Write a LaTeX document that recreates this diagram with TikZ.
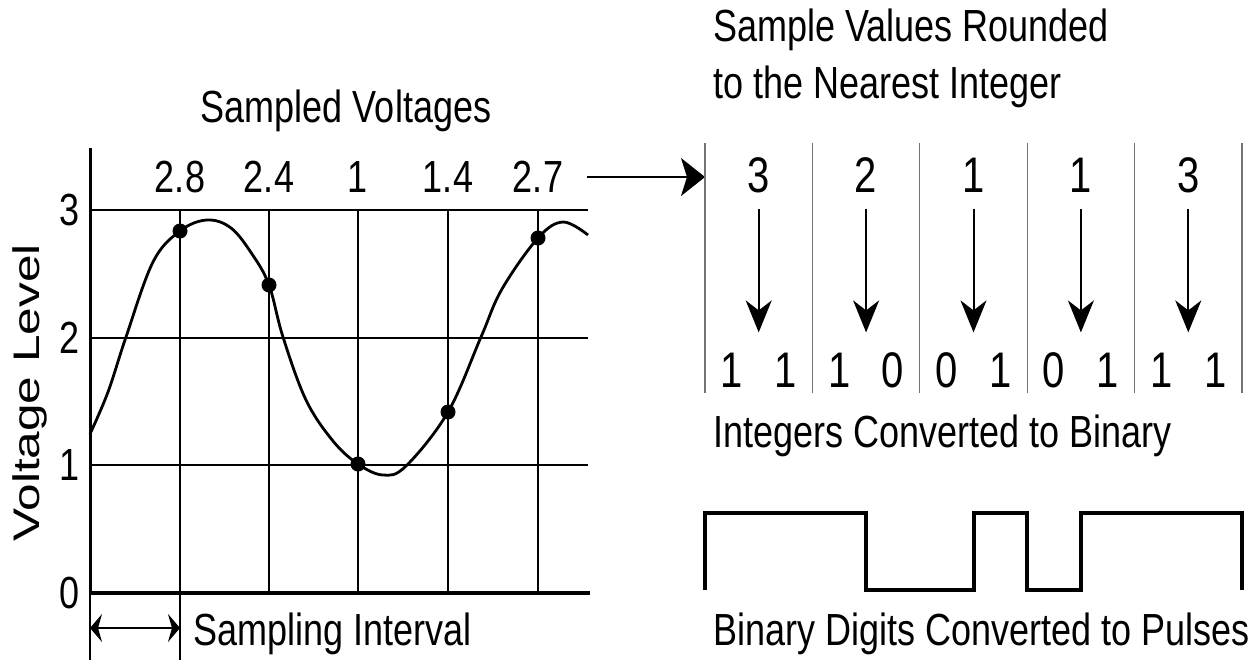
\documentclass[tikz,border=0pt]{standalone}
\usepackage{fontspec}
\setmainfont{Liberation Sans}[FakeStretch=0.8]
\newfontfamily\widefont{Liberation Sans}[FakeStretch=1.34]
\usetikzlibrary{arrows.meta,positioning}
\tikzset{>=Stealth,
  every node/.style={font=\fontsize{22.5pt}{26pt}\selectfont,inner sep=0pt},
  grid/.style={draw=black,line width=1pt},
  tick/.style={draw=black,line width=.75pt},
  wave/.style={draw=black,line width=1.4pt},
  sample/.style={circle,fill=black,inner sep=0pt,minimum size=7.5pt},
  digit/.style={font=\fontsize{25pt}{28pt}\selectfont},
  divider/.style={draw=black!55,line width=.6pt},
  convert/.style={-{Stealth[length=16pt,width=13pt,inset=5pt]},line width=1pt,
    shorten <=8pt,shorten >=10pt},
  pulse/.style={draw=black,line width=2pt}}

\begin{document}
\begin{tikzpicture}[x=.5pt,y=-.5pt]
\useasboundingbox (0,0) rectangle (1253,660);
% chart
\foreach \v/\y in {3/210,2/338,1/465}{
  \draw[grid] (90,\y) -- (588,\y);
  \node[anchor=east] (lvl\v) at (80,\y) {\v};}
\node[anchor=east] (lvl0) at (80,593) {0};
\foreach \x in {180,269,358,448,538} \draw[tick] (\x,210) -- (\x,593);
\draw[tick] (180,593) -- (180,660);
\draw[line width=.6pt] (90,593) -- (90,660);
\draw[line width=1.5pt] (90,148) -- (90,594);
\draw[line width=2pt] (89,593) -- (590,593);
\draw[wave] plot[smooth,tension=.6] coordinates {(90,434) (108,392) (126,337)
  (153,262) (180,231) (207,220) (231,228) (252,254) (269,285) (283,337)
  (306,400) (333,441) (358,464) (383,475) (406,466) (448,412) (481,337)
  (502,289) (538,238) (563,222) (588,235)};
\foreach \x/\y/\v [count=\i] in {180/231/2.8,269/285/2.4,358/464/1,448/412/1.4,538/238/2.7}{
  \node[sample] (s\i) at (\x,\y) {};
  \node (v\i) at (\x,177) {\v};}
\node[anchor=base] (title) at (346,122) {Sampled Voltages};
\node[rotate=90,font=\widefont\fontsize{18.5pt}{20pt}\selectfont] (ylabel) at (30,393) {Voltage Level};
\coordinate (i0) at (90,628);
\coordinate (i1) at (180,628);
\draw[{Stealth[length=6pt,width=14pt,inset=2pt]}-{Stealth[length=6pt,width=14pt,inset=2pt]},line width=.75pt] (i0) -- (i1);
\node[anchor=base west] (interval) at (193,645) {Sampling Interval};
% hand-over to the right panel
\coordinate (feed) at (587,177);
\coordinate (panel) at (705,177);
\draw[-{Stealth[length=12pt,width=19pt,inset=3pt]},line width=1pt] (feed) -- (panel);
% right panel
\node[anchor=base west] (rounded) at (713,41) {Sample Values Rounded};
\node[anchor=base west] (nearest) at (713,98) {to the Nearest Integer};
\foreach \x in {705,812.4,919.8,1027.2,1134.6,1242} \draw[divider] (\x,143) -- (\x,393);
\foreach \d [count=\k] in {1,1,1,0,0,1,0,1,1,1}
  \node[digit] (b\k) at ({705+53.7*(\k-.5)},370) {\d};
\foreach \n [count=\i] in {3,2,1,1,3}{
  \node[digit] (n\i) at ({705+107.4*(\i-.5)},175) {\n};
  \draw[convert] (n\i.south) -- (n\i.south |- b1.north);}
\node[anchor=base west] (binary) at (713,447) {Integers Converted to Binary};
\draw[pulse] (705,590) -- (705,513) -- (866.1,513) -- (866.1,590) -- (973.5,590)
  -- (973.5,513) -- (1027.2,513) -- (1027.2,590) -- (1080.9,590) -- (1080.9,513)
  -- (1242,513) -- (1242,590);
\node[anchor=base west] (pulses) at (713,645) {Binary Digits Converted to Pulses};
\end{tikzpicture}
\end{document}
